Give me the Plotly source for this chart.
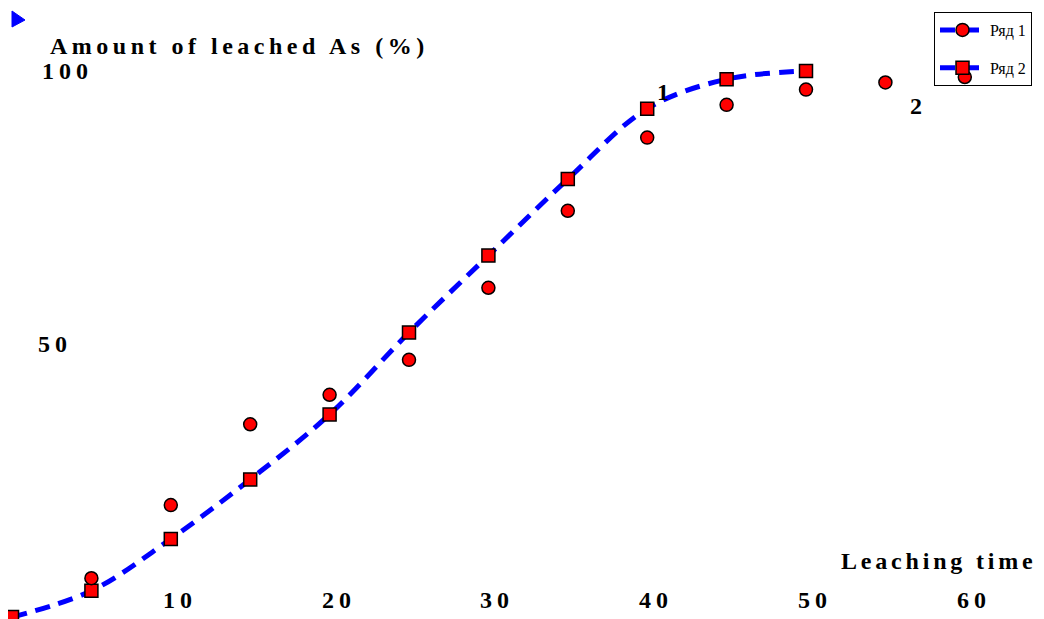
import plotly.graph_objects as go

# Data
time_points = [0, 5, 10, 15, 20, 25, 30, 35, 40, 45, 50]
series2_values = [0, 4.8, 14.3, 25.2, 37.1, 52.1, 66.2, 80.2, 93.1, 98.5, 100]

time_points_1 = [5, 10, 15, 20, 25, 30, 35, 40, 45, 50, 55, 60]
series1_values = [7.1, 20.5, 35.3, 40.7, 47.1, 60.3, 74.4, 87.8, 93.8, 96.6, 97.9, 98.9]

x_tick_values = [10, 20, 30, 40, 50, 60]
x_tick_labels = ["10", "20", "30", "40", "50", "60"]
y_tick_values = [100, 50]
y_tick_labels = ["100", "50"]

series_names = ["Ряд 1", "Ряд 2"]

OFF = 8                      # page body margin in the browser
W, H = 1044 - OFF, 619 - OFF  # figure size
BLUE = "#0000ff"
RED = "#ff0000"
FONT = "Liberation Serif"
DASH = "15px,9px"


def px(p):   # page x pixel -> paper x
    return (p - OFF) / W


def py(p):   # page y pixel -> paper y
    return 1 - (p - OFF) / H


def spaced(t, s=5):
    return f"<span style='letter-spacing:{s}px'>{t}</span>"


fig = go.Figure()

fig.add_trace(go.Scatter(
    x=time_points, y=series2_values, mode="lines+markers",
    line=dict(color=BLUE, width=5, dash=DASH, shape="spline", smoothing=1.0),
    marker=dict(symbol="square", size=13, color=RED, line=dict(color="black", width=1.5)),
    showlegend=False, cliponaxis=False,
))
fig.add_trace(go.Scatter(
    x=time_points_1, y=series1_values, mode="markers",
    marker=dict(symbol="circle", size=13, color=RED, line=dict(color="black", width=1.5)),
    showlegend=False, cliponaxis=False,
))

for name, sym, grp in [(series_names[0], "circle", "a"), (series_names[1], "square", "b")]:
    fig.add_trace(go.Scatter(
        x=[None], y=[None], mode="lines+markers", name=name, legendgroup=grp,
        line=dict(color=BLUE, width=5, dash=DASH),
        marker=dict(symbol=sym, size=13, color=RED, line=dict(color="black", width=1.5)),
    ))

# axis mapping in page pixels
x_px0, x_scale = 12, 15.88
y_px0, y_scale = 617, 5.46
xr = [(OFF - x_px0) / x_scale, (OFF + W - x_px0) / x_scale]
yr = [(y_px0 - (OFF + H)) / y_scale, (y_px0 - OFF) / y_scale]

bold = dict(family=FONT, size=24, color="black", weight="bold")
annotations = []
for v, lab in zip(x_tick_values, x_tick_labels):
    annotations.append(dict(x=v, y=py(600), yref="paper", xref="x", text=spaced(lab, 5),
                            showarrow=False, xshift=9, yanchor="middle", font=bold))
y_label_px = {100: 67, 50: 55}
for v, lab in zip(y_tick_values, y_tick_labels):
    annotations.append(dict(x=px(y_label_px[v]), xref="paper", y=v, yref="y", text=spaced(lab, 5),
                            showarrow=False, xanchor="center", yanchor="middle", font=bold))
annotations.append(dict(x=px(48), y=py(46), xref="paper", yref="paper",
                        text=spaced("Amount of leached As (%)", 4.5), showarrow=False,
                        xanchor="left", yanchor="middle", font=bold))
annotations.append(dict(x=px(839), y=py(561), xref="paper", yref="paper",
                        text=spaced("Leaching time", 3.8), showarrow=False,
                        xanchor="left", yanchor="middle", font=bold))
annotations.append(dict(x=41.0, y=96.2, text="1", showarrow=False, font=bold))
annotations.append(dict(x=56.9, y=93.6, text="2", showarrow=False, font=bold))

shapes = [dict(type="path", xref="paper", yref="paper",
               path=f"M {px(12)},{py(11)} L {px(25)},{py(20)} L {px(12)},{py(27)} Z",
               fillcolor=BLUE, line=dict(color=BLUE, width=1))]

fig.update_layout(
    width=W, height=H,
    margin=dict(l=0, r=0, t=0, b=0),
    paper_bgcolor="white", plot_bgcolor="white",
    xaxis=dict(range=xr, visible=False, showgrid=False, zeroline=False),
    yaxis=dict(range=yr, visible=False, showgrid=False, zeroline=False),
    annotations=annotations,
    shapes=shapes,
    legend=dict(x=px(934), y=py(12), xanchor="left", yanchor="top",
                bgcolor="rgba(0,0,0,0)", bordercolor="black", borderwidth=1,
                font=dict(family=FONT, size=16, color="black"),
                tracegroupgap=14, itemwidth=45),
    showlegend=True,
)

fig.write_html("out.html")
